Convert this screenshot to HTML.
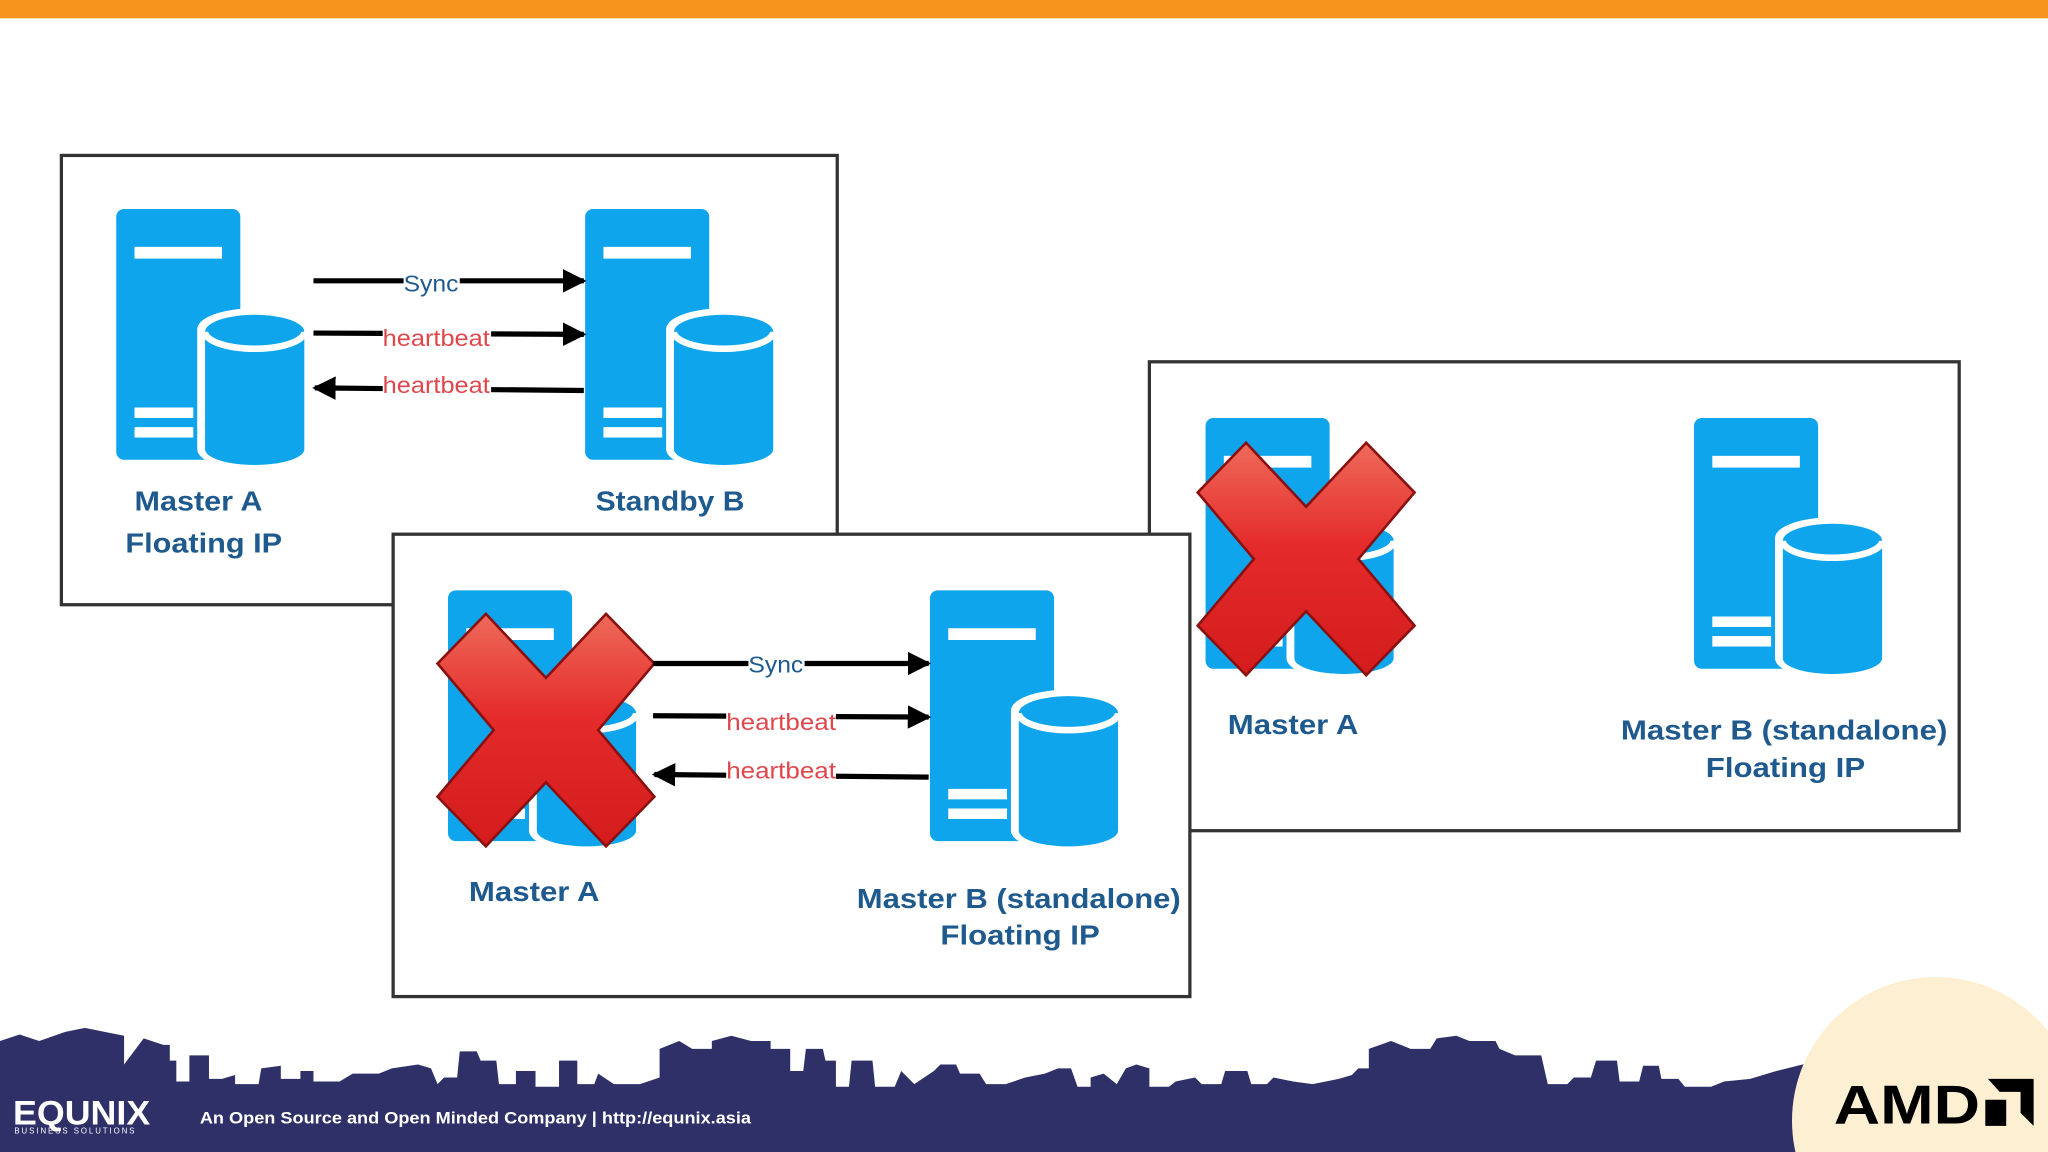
<!DOCTYPE html>
<html><head><meta charset="utf-8"><style>
html,body{margin:0;padding:0;background:#fff;width:2048px;height:1152px;overflow:hidden}
svg{display:block;overflow:hidden}
.lb{font-family:"Liberation Sans",sans-serif;font-weight:bold;font-size:21px;fill:#1f5a8f;text-anchor:middle}
.al{font-family:"Liberation Sans",sans-serif;font-size:18px;text-anchor:middle}
</style></head><body>
<svg width="2048" height="1152" viewBox="0 0 1568 882" xmlns="http://www.w3.org/2000/svg">
<defs>
<g id="srv">
 <rect x="0" y="0" width="95" height="192" rx="6" fill="#0ea5ec"/>
 <rect x="14" y="29" width="67" height="9" fill="#fff"/>
 <rect x="14" y="152" width="45" height="8" fill="#fff"/>
 <rect x="14" y="167" width="45" height="8" fill="#fff"/>
 <path d="M62,92 a44,16 0 0 1 88,0 V184 a44,16 0 0 1 -88,0 Z" fill="#fff"/>
 <path d="M68,94 a38,13 0 0 1 76,0 V184 a38,12 0 0 1 -76,0 Z" fill="#0ea5ec"/>
 <path d="M68,94 a38,13 0 0 0 76,0" fill="none" stroke="#fff" stroke-width="5"/>
</g>
<linearGradient id="xg" x1="0" y1="0" x2="0" y2="1">
 <stop offset="0" stop-color="#ee6a5a"/><stop offset="0.45" stop-color="#e42a2a"/><stop offset="1" stop-color="#d41c1c"/>
</linearGradient>
<g id="xx">
 <polygon points="-83,-51 -46,-89 0,-40 46,-89 83,-51 40,0 83,51 46,89 0,40 -46,89 -83,51 -40,0" fill="url(#xg)" stroke="#8a1010" stroke-width="2"/>
</g>
<marker id="ar" markerWidth="20" markerHeight="18" refX="16" refY="9" orient="auto" markerUnits="userSpaceOnUse"><path d="M0,0 L18,9 L0,18 Z" fill="#000"/></marker>
</defs>
<rect x="0" y="0" width="1568" height="14" fill="#f7941d"/>

<!-- panel 1 -->
<rect x="47" y="119" width="594" height="344" fill="#fff" stroke="#333" stroke-width="2.5"/>
<use href="#srv" x="89" y="160"/>
<use href="#srv" x="448" y="160"/>
<g stroke="#000" stroke-width="4">
<line x1="240" y1="215" x2="447" y2="215" marker-end="url(#ar)"/>
<line x1="240" y1="255" x2="447" y2="256" marker-end="url(#ar)"/>
<line x1="447" y1="299" x2="241" y2="297" marker-end="url(#ar)"/>
</g>
<rect x="309" y="206" width="43" height="20" fill="#fff"/>
<rect x="293" y="247" width="83" height="22" fill="#fff"/>
<rect x="293" y="285" width="83" height="22" fill="#fff"/>
<text class="al" x="330" y="223" fill="#1f5a8f" textLength="42" lengthAdjust="spacingAndGlyphs">Sync</text>
<text class="al" x="334" y="265" fill="#e0474c" textLength="82" lengthAdjust="spacingAndGlyphs">heartbeat</text>
<text class="al" x="334" y="301" fill="#e0474c" textLength="82" lengthAdjust="spacingAndGlyphs">heartbeat</text>
<text class="lb" x="152" y="391" textLength="98" lengthAdjust="spacingAndGlyphs">Master A</text>
<text class="lb" x="156" y="423" textLength="120" lengthAdjust="spacingAndGlyphs">Floating IP</text>
<text class="lb" x="513" y="391" textLength="114" lengthAdjust="spacingAndGlyphs">Standby B</text>

<!-- panel 3 -->
<rect x="880" y="277" width="620" height="359" fill="#fff" stroke="#333" stroke-width="2.5"/>
<use href="#srv" x="923" y="320"/>
<use href="#srv" x="1297" y="320"/>
<use href="#xx" x="1000" y="428"/>
<text class="lb" x="990" y="562" textLength="100" lengthAdjust="spacingAndGlyphs">Master A</text>
<text class="lb" x="1366" y="566" textLength="250" lengthAdjust="spacingAndGlyphs">Master B (standalone)</text>
<text class="lb" x="1367" y="595" textLength="122" lengthAdjust="spacingAndGlyphs">Floating IP</text>

<!-- panel 2 -->
<rect x="301" y="409" width="610" height="354" fill="#fff" stroke="#333" stroke-width="2.5"/>
<use href="#srv" x="343" y="452"/>
<use href="#srv" x="712" y="452"/>
<use href="#xx" x="418" y="559"/>
<g stroke="#000" stroke-width="4">
<line x1="500" y1="508" x2="711" y2="508" marker-end="url(#ar)"/>
<line x1="500" y1="548" x2="711" y2="549" marker-end="url(#ar)"/>
<line x1="711" y1="595" x2="501" y2="593" marker-end="url(#ar)"/>
</g>
<rect x="573" y="499" width="43" height="20" fill="#fff"/>
<rect x="556" y="541" width="84" height="22" fill="#fff"/>
<rect x="556" y="579" width="84" height="22" fill="#fff"/>
<text class="al" x="594" y="515" fill="#1f5a8f" textLength="42" lengthAdjust="spacingAndGlyphs">Sync</text>
<text class="al" x="598" y="559" fill="#e0474c" textLength="84" lengthAdjust="spacingAndGlyphs">heartbeat</text>
<text class="al" x="598" y="596" fill="#e0474c" textLength="84" lengthAdjust="spacingAndGlyphs">heartbeat</text>
<text class="lb" x="409" y="690" textLength="100" lengthAdjust="spacingAndGlyphs">Master A</text>
<text class="lb" x="780" y="695" textLength="248" lengthAdjust="spacingAndGlyphs">Master B (standalone)</text>
<text class="lb" x="781" y="723" textLength="122" lengthAdjust="spacingAndGlyphs">Floating IP</text>

<!-- skyline -->
<path fill="#2f3068" d="M0,882 L0,797 L15,792 L30,797 L50,790 L65,787 L80,790 L95,793 L95,815 L110,795 L125,800 L130,800 L130,812 L135,812 L135,828 L145,828 L145,808 L160,808 L160,826 L170,826 L180,823 L180,830 L198,830 L200,818 L215,816 L215,826 L230,826 L230,820 L240,820 L240,828 L260,828 L270,822 L290,822 L300,818 L320,815 L330,818 L335,830 L340,825 L350,825 L352,805 L365,805 L368,812 L380,812 L382,830 L395,830 L395,820 L410,820 L410,832 L428,832 L428,812 L442,812 L442,830 L455,830 L458,822 L470,830 L490,830 L505,825 L505,803 L520,797 L530,803 L545,803 L545,797 L560,793 L575,797 L590,797 L590,803 L605,803 L605,820 L615,820 L617,803 L630,803 L632,812 L640,812 L640,832 L650,832 L652,812 L668,812 L670,832 L685,832 L690,820 L700,830 L715,820 L720,815 L732,815 L735,822 L750,822 L755,830 L770,830 L785,825 L800,822 L810,818 L820,818 L825,832 L835,832 L835,825 L845,822 L855,830 L862,818 L870,815 L880,818 L880,832 L895,832 L900,828 L915,825 L920,830 L935,830 L938,820 L955,820 L958,830 L970,830 L975,825 L990,828 L1005,830 L1015,828 L1025,826 L1035,823 L1040,818 L1048,818 L1048,803 L1065,797 L1080,803 L1095,803 L1100,795 L1115,793 L1125,797 L1145,797 L1148,803 L1160,808 L1180,808 L1185,830 L1200,830 L1205,825 L1218,825 L1222,812 L1238,812 L1240,828 L1255,828 L1258,816 L1270,816 L1272,826 L1285,826 L1290,832 L1310,832 L1320,828 L1340,826 L1360,820 L1380,815 L1400,812 L1400,882 Z"/>
<rect x="0" y="835" width="1400" height="47" fill="#2f3068"/>
<text x="10" y="861" font-family="Liberation Sans,sans-serif" font-weight="bold" font-size="26" fill="#fff" textLength="105" lengthAdjust="spacingAndGlyphs">EQUNIX</text>
<text x="11" y="868" font-family="Liberation Sans,sans-serif" font-size="6" fill="#fff" textLength="92">BUSINESS SOLUTIONS</text>
<text x="153" y="860" font-family="Liberation Sans,sans-serif" font-weight="bold" font-size="13" fill="#fff" textLength="422" lengthAdjust="spacingAndGlyphs">An Open Source and Open Minded Company | http://equnix.asia</text>

<!-- AMD circle -->
<circle cx="1482" cy="858" r="110" fill="#fdf0d2"/>
<text x="1404" y="860" font-family="Liberation Sans,sans-serif" font-weight="bold" font-size="42" fill="#000" textLength="112" lengthAdjust="spacingAndGlyphs">AMD</text>
<path d="M1522,826 L1557,826 L1557,862 L1547,852 L1547,836 L1531,836 Z M1520,842 L1536,842 L1536,862 L1520,862 Z" fill="#000"/>
</svg>
</body></html>
